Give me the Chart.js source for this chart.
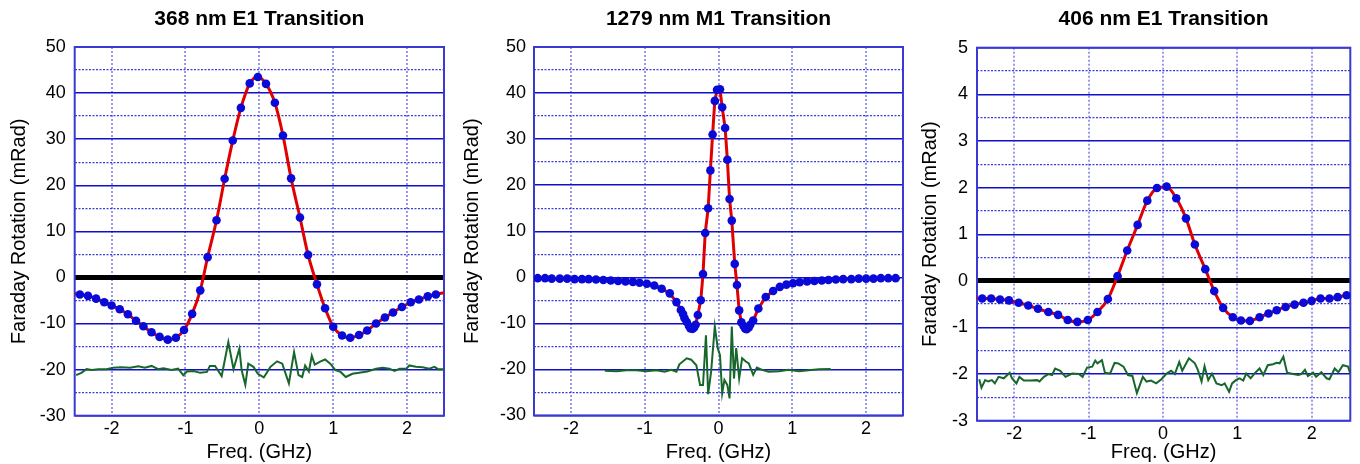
<!DOCTYPE html>
<html>
<head>
<meta charset="utf-8">
<script src="https://cdn.jsdelivr.net/npm/chart.js@4.4.1/dist/chart.umd.min.js"></script>
<style>
html,body{margin:0;padding:0;background:#fff;width:1360px;height:464px;overflow:hidden;}
.p{position:absolute;top:0;height:464px;}
canvas{display:block;}
</style>
</head>
<body>
<div class="p" style="left:0px;width:453px"><canvas id="c1" width="453" height="464"></canvas></div>
<div class="p" style="left:453px;width:458px"><canvas id="c2" width="458" height="464"></canvas></div>
<div class="p" style="left:911px;width:449px"><canvas id="c3" width="449" height="464"></canvas></div>
<script>
// ---------- Panel titles & axes ----------
const titles = ["368 nm E1 Transition", "1279 nm M1 Transition", "406 nm E1 Transition"];
const xTitle = "Freq. (GHz)";
const yTitle = "Faraday Rotation (mRad)";
const xTicks = [-2, -1, 0, 1, 2];
const yTicks1 = [-30, -20, -10, 0, 10, 20, 30, 40, 50];
const yMinor1 = [-25, -15, -5, 5, 15, 25, 35, 45];
const yTicks3 = [-3, -2, -1, 0, 1, 2, 3, 4, 5];
const yMinor3 = [-2.5, -1.5, -0.5, 0.5, 1.5, 2.5, 3.5, 4.5];

// ---------- Panel 1: 368 nm ----------
const x1Pts = [-2.43,-2.32,-2.21,-2.10,-2.00,-1.89,-1.78,-1.67,-1.57,-1.46,-1.35,-1.24,-1.13,-1.02,-0.91,-0.80,-0.70,-0.58,-0.47,-0.36,-0.25,-0.13,-0.02,0.09,0.21,0.32,0.43,0.55,0.66,0.78,0.89,1.00,1.12,1.23,1.35,1.46,1.58,1.70,1.81,1.93,2.05,2.16,2.28,2.39];
const y1Pts = [-3.7,-4.0,-4.6,-5.4,-6.1,-6.9,-8.0,-9.4,-10.6,-11.9,-12.9,-13.5,-13.1,-11.4,-7.9,-2.8,4.4,12.4,21.4,29.7,36.8,42.1,43.5,42.0,37.9,30.8,21.5,13.0,4.9,-1.5,-6.7,-10.7,-12.6,-13.1,-12.5,-11.5,-10.0,-8.7,-7.6,-6.4,-5.4,-4.8,-4.1,-3.7];
const fit1Edges = {x: [-2.5, 2.5], y: [-3.5, -3.3]};
const x1Res = [-2.48,-2.41,-2.34,-2.27,-2.18,-2.07,-1.98,-1.87,-1.75,-1.64,-1.55,-1.46,-1.37,-1.30,-1.19,-1.10,-1.03,-0.98,-0.89,-0.80,-0.71,-0.67,-0.60,-0.51,-0.42,-0.35,-0.27,-0.24,-0.19,-0.15,-0.08,-0.02,0.06,0.15,0.24,0.31,0.40,0.47,0.53,0.58,0.62,0.67,0.71,0.75,0.83,0.89,0.96,1.03,1.10,1.17,1.26,1.35,1.46,1.58,1.67,1.76,1.83,1.90,1.99,2.03,2.12,2.21,2.30,2.37,2.42,2.51];
const y1Res = [-21.2,-20.7,-19.9,-20.1,-19.9,-19.9,-19.6,-19.5,-19.6,-19.3,-19.6,-19.2,-19.9,-19.7,-20.1,-19.8,-21.2,-20.4,-20.3,-20.7,-20.5,-19.2,-19.2,-21.4,-14.0,-19.9,-15.4,-20.1,-23.3,-18.7,-19.4,-20.9,-21.7,-19.4,-18.2,-18.7,-23.0,-16.2,-21.2,-21.6,-19.1,-20.4,-17.0,-18.9,-18.2,-17.8,-18.7,-20.1,-20.5,-21.6,-20.9,-20.7,-20.4,-19.8,-19.6,-19.8,-20.3,-19.8,-19.8,-19.1,-19.4,-19.5,-19.8,-19.4,-19.9,-19.9];

// ---------- Panel 2: 1279 nm ----------
const x2Pts = [-2.45,-2.35,-2.26,-2.15,-2.05,-1.95,-1.85,-1.76,-1.66,-1.56,-1.46,-1.36,-1.26,-1.16,-1.07,-0.97,-0.87,-0.77,-0.66,-0.57,
  -0.51,-0.48,-0.46,-0.43,-0.40,-0.38,-0.35,-0.33,-0.31,-0.28,-0.24,-0.21,-0.18,-0.14,-0.11,-0.08,-0.05,-0.02,0.02,0.05,0.09,0.12,0.15,0.18,0.22,0.25,0.28,0.31,0.34,0.36,0.38,0.41,0.43,0.47,0.54,
  0.64,0.74,0.83,0.92,1.01,1.10,1.20,1.30,1.40,1.49,1.59,1.69,1.80,1.90,2.00,2.10,2.20,2.30,2.40];
const y2Pts = [-0.2,-0.2,-0.3,-0.3,-0.3,-0.4,-0.4,-0.4,-0.5,-0.6,-0.7,-0.8,-0.9,-1.0,-1.2,-1.4,-1.8,-2.5,-3.5,-5.4,
  -7.1,-8.0,-8.9,-9.7,-10.6,-11.1,-11.2,-10.9,-10.3,-8.2,-5.0,0.7,9.6,15.0,23.2,31.0,38.3,40.7,40.8,36.9,32.4,25.5,17.0,12.3,2.9,-1.7,-7.2,-9.8,-10.6,-11.1,-11.3,-10.9,-10.3,-9.4,-6.8,
  -4.3,-3.0,-2.1,-1.6,-1.3,-1.1,-0.9,-0.8,-0.7,-0.6,-0.5,-0.4,-0.4,-0.3,-0.3,-0.3,-0.2,-0.2,-0.2];
const fit2Edges = {x: [-2.5, 2.45], y: [-0.2, -0.2]};
const x2Res = [-1.54,-1.38,-1.25,-1.11,-0.98,-0.84,-0.73,-0.64,-0.57,-0.53,-0.43,-0.37,-0.30,-0.25,-0.21,-0.17,-0.14,-0.10,-0.05,-0.01,0.02,0.05,0.08,0.12,0.15,0.18,0.21,0.24,0.28,0.32,0.37,0.41,0.47,0.52,0.59,0.68,0.82,0.95,1.09,1.22,1.36,1.52];
const y2Res = [-20.3,-20.4,-20.2,-20.2,-20.4,-20.2,-20.5,-20.1,-20.5,-18.9,-17.6,-17.9,-19.1,-23.4,-23.4,-12.6,-25.4,-20.5,-10.7,-15.4,-16.9,-25.2,-22.3,-23.4,-26.3,-10.7,-22.0,-15.4,-22.0,-17.6,-18.3,-18.7,-21.2,-19.6,-20.1,-20.5,-20.4,-20.1,-20.4,-20.2,-20.0,-19.9];

// ---------- Panel 3: 406 nm ----------
const x3Pts = [-2.43,-2.31,-2.19,-2.07,-1.94,-1.81,-1.68,-1.54,-1.41,-1.28,-1.15,-1.01,-0.88,-0.74,-0.61,-0.48,-0.34,-0.21,-0.08,0.05,0.18,0.31,0.43,0.57,0.69,0.81,0.94,1.05,1.17,1.30,1.42,1.53,1.65,1.77,1.89,2.00,2.12,2.24,2.35,2.47];
const y3Pts = [-0.38,-0.38,-0.40,-0.42,-0.47,-0.53,-0.60,-0.67,-0.73,-0.84,-0.88,-0.84,-0.67,-0.39,0.10,0.65,1.20,1.72,1.99,2.02,1.77,1.34,0.78,0.25,-0.22,-0.58,-0.78,-0.85,-0.86,-0.78,-0.70,-0.63,-0.56,-0.51,-0.47,-0.43,-0.38,-0.38,-0.35,-0.31];
const fit3Edges = {x: [-2.5, 2.52], y: [-0.37, -0.30]};
const x3Res = [-2.47,-2.44,-2.39,-2.35,-2.30,-2.26,-2.21,-2.14,-2.06,-2.03,-1.97,-1.93,-1.87,-1.78,-1.69,-1.66,-1.60,-1.54,-1.49,-1.45,-1.38,-1.31,-1.22,-1.13,-1.08,-1.02,-0.95,-0.91,-0.88,-0.82,-0.78,-0.71,-0.65,-0.60,-0.53,-0.47,-0.41,-0.35,-0.27,-0.22,-0.16,-0.09,-0.02,
  0.05,0.11,0.16,0.22,0.26,0.35,0.43,0.47,0.52,0.56,0.61,0.66,0.72,0.79,0.83,0.89,0.93,0.98,1.03,1.08,1.12,1.18,1.23,1.30,1.35,1.41,1.48,1.53,1.57,1.62,1.67,1.75,1.82,1.86,1.91,1.95,2.02,2.06,2.13,2.20,2.24,2.31,2.36,2.42,2.49,2.52];
const y3Res = [-2.11,-2.29,-2.13,-2.16,-2.13,-2.20,-2.06,-2.09,-1.97,-2.09,-2.20,-2.06,-2.14,-2.14,-2.13,-2.16,-2.06,-2.00,-2.02,-1.88,-1.93,-2.06,-1.99,-2.00,-2.06,-1.86,-1.84,-1.71,-1.77,-1.70,-1.97,-1.99,-1.76,-1.77,-1.84,-2.02,-2.04,-2.41,-2.06,-2.16,-2.14,-2.20,-2.11,
  -1.99,-1.93,-2.00,-1.74,-1.93,-1.66,-1.77,-1.91,-2.16,-1.83,-2.13,-1.99,-2.20,-2.24,-2.20,-2.38,-2.20,-2.13,-2.09,-2.14,-1.99,-2.09,-1.99,-1.88,-2.02,-1.81,-1.79,-1.76,-1.77,-1.63,-1.97,-2.00,-2.02,-2.00,-1.91,-2.04,-1.97,-2.06,-1.96,-2.09,-2.11,-1.88,-1.96,-1.81,-1.84,-1.99];

// ---------- helpers ----------
const pts = (xs, ys) => xs.map((x, i) => ({x, y: ys[i]}));
const fitPts = (xs, ys, e) => [{x: e.x[0], y: e.y[0]}, ...pts(xs, ys), {x: e.x[1], y: e.y[1]}];
const setTicks = arr => scale => { scale.ticks = arr.map(v => ({value: v})); };

const frame = {
  id: 'frame',
  beforeDatasetsDraw(chart) {
    const a = chart.chartArea, c = chart.ctx;
    c.save();
    c.strokeStyle = '#3a3ad2';
    c.lineWidth = 2;
    c.strokeRect(a.left, a.top, a.right - a.left, a.bottom - a.top);
    c.restore();
  }
};

function makeChart(id, o) {
  new Chart(document.getElementById(id), {
    type: 'scatter',
    data: {
      datasets: [
        {data: pts(o.xp, o.yp), pointRadius: 4.3, pointHoverRadius: 4.3, backgroundColor: '#0a0ad8', borderWidth: 0, showLine: false},
        {data: fitPts(o.xp, o.yp, o.fe), showLine: true, pointRadius: 0, borderColor: '#e00000', borderWidth: 3,
         tension: o.smooth ? 0.4 : 0, cubicInterpolationMode: o.smooth ? 'monotone' : 'default'},
        {data: pts(o.xr, o.yr), showLine: true, pointRadius: 0, borderColor: '#17662a', borderWidth: 2, tension: 0}
      ]
    },
    options: {
      responsive: false, animation: false, devicePixelRatio: 1,
      layout: {padding: {left: 0, right: o.padR, top: 0, bottom: 0}},
      plugins: {
        legend: {display: false}, tooltip: {enabled: false},
        title: {display: true, text: o.title, fullSize: false, color: '#000',
                font: {family: 'Liberation Sans, Arial, sans-serif', size: 21, weight: 'bold'},
                padding: {top: 7, bottom: o.titleBottom}}
      },
      scales: {
        x: {
          type: 'linear', min: -2.5, max: o.xmax,
          afterBuildTicks: setTicks(xTicks),
          afterFit: s => { s.height = o.xh; },
          grid: {color: 'rgba(70,70,225,0.55)', lineWidth: 2, drawTicks: false},
          border: {display: false, dash: [2, 2]},
          ticks: {color: '#000', padding: 3, font: {family: 'Liberation Sans, Arial, sans-serif', size: 18}},
          title: {display: true, text: xTitle, color: '#000', padding: {top: 0, bottom: 0},
                  font: {family: 'Liberation Sans, Arial, sans-serif', size: 20}}
        },
        y: {
          type: 'linear', position: 'left', min: o.ymin, max: o.ymax,
          afterBuildTicks: setTicks(o.yt),
          afterFit: s => { s.width = o.yw; },
          grid: {
            drawTicks: false,
            color: c => (o.zero && c.tick && c.tick.value === 0) ? '#000' : '#1010c8',
            lineWidth: c => (o.zero && c.tick && c.tick.value === 0) ? 5 : 1.4
          },
          border: {display: false},
          ticks: {color: '#000', padding: o.tickPad, font: {family: 'Liberation Sans, Arial, sans-serif', size: 18}},
          title: {display: true, text: yTitle, color: '#000', padding: {top: 7, bottom: 0},
                  font: {family: 'Liberation Sans, Arial, sans-serif', size: 20}}
        },
        yMinor: {
          type: 'linear', position: 'left', min: o.ymin, max: o.ymax,
          afterBuildTicks: setTicks(o.ym),
          afterFit: s => { s.width = 0; },
          grid: {drawTicks: false, color: '#3c3cd8', lineWidth: 1.3},
          border: {display: false, dash: [2, 1.5]},
          ticks: {display: false},
          title: {display: false}
        }
      }
    },
    plugins: [frame]
  });
}

makeChart('c1', {title: titles[0], xp: x1Pts, yp: y1Pts, fe: fit1Edges, xr: x1Res, yr: y1Res, smooth: true, zero: true,
  ymin: -30, ymax: 50, yt: yTicks1, ym: yMinor1, yw: 74.7, padR: 9, xh: 48.3, xmax: 2.5, titleBottom: 14.8, tickPad: 9});
makeChart('c2', {title: titles[1], xp: x2Pts, yp: y2Pts, fe: fit2Edges, xr: x2Res, yr: y2Res, smooth: false, zero: false,
  ymin: -30, ymax: 50, yt: yTicks1, ym: yMinor1, yw: 81, padR: 8, xh: 48.6, xmax: 2.5, titleBottom: 14.8, tickPad: 8});
makeChart('c3', {title: titles[2], xp: x3Pts, yp: y3Pts, fe: fit3Edges, xr: x3Res, yr: y3Res, smooth: true, zero: true,
  ymin: -3, ymax: 5, yt: yTicks3, ym: yMinor3, yw: 66, padR: 9.7, xh: 43.3, xmax: 2.52, titleBottom: 15.5, tickPad: 9});
</script>
</body>
</html>
